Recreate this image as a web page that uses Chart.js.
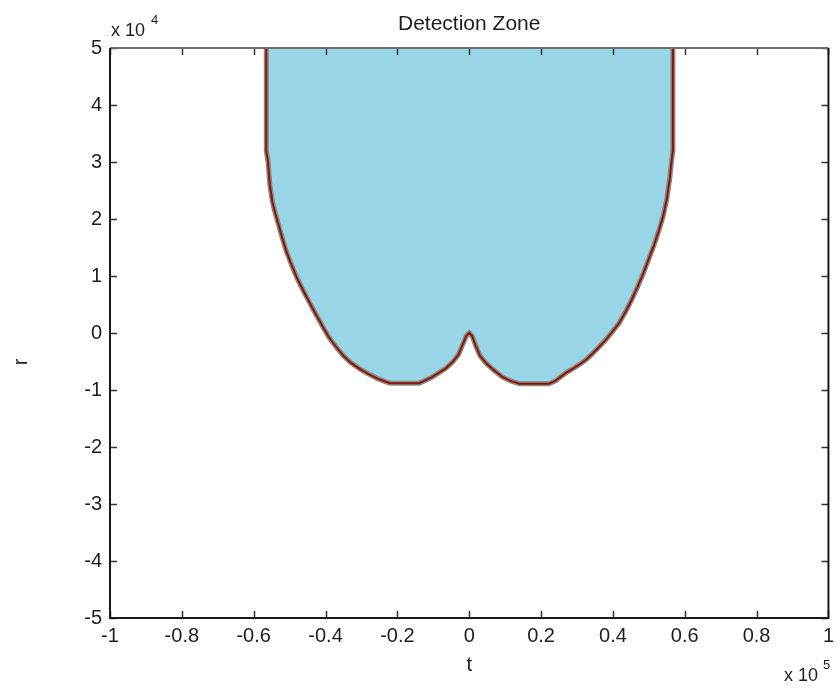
<!DOCTYPE html>
<html>
<head>
<meta charset="utf-8">
<script src="https://cdn.jsdelivr.net/npm/chart.js@4/dist/chart.umd.min.js"></script>
<style>
  html, body { margin: 0; padding: 0; background: #ffffff; }
  canvas { display: block; }
</style>
</head>
<body>
<canvas id="c" width="840" height="691" style="width:840px;height:691px"></canvas>
<script>
// ---- data (t in units of 1e5, r in units of 1e4) ----
const boundaryT = [
  -0.565, -0.565, -0.560, -0.555, -0.548, -0.540, -0.533, -0.522, -0.510, -0.495,
  -0.480, -0.465, -0.450, -0.435, -0.420, -0.405, -0.390, -0.370, -0.350, -0.330,
  -0.305, -0.280, -0.255, -0.230, -0.220, -0.140, -0.125, -0.105, -0.085, -0.065,
  -0.045, -0.030, -0.018, -0.008, 0.000,
  0.008, 0.018, 0.030, 0.047, 0.068, 0.092, 0.115, 0.140, 0.222, 0.240,
  0.269, 0.290, 0.310, 0.325, 0.345, 0.362, 0.380, 0.398, 0.417, 0.435,
  0.452, 0.468, 0.485, 0.500, 0.515, 0.528, 0.540, 0.550, 0.558, 0.563,
  0.567, 0.567
];
const boundaryR = [
  5.00, 3.20, 3.00, 2.60, 2.30, 2.10, 1.95, 1.70, 1.45, 1.20,
  0.97, 0.78, 0.60, 0.42, 0.25, 0.08, -0.08, -0.25, -0.40, -0.52,
  -0.63, -0.72, -0.80, -0.86, -0.88, -0.88, -0.84, -0.78, -0.70, -0.62,
  -0.50, -0.38, -0.20, -0.05, 0.00,
  -0.05, -0.22, -0.40, -0.53, -0.65, -0.77, -0.84, -0.89, -0.89, -0.84,
  -0.70, -0.62, -0.54, -0.47, -0.35, -0.24, -0.12, 0.02, 0.17, 0.37,
  0.58, 0.80, 1.05, 1.30, 1.55, 1.80, 2.05, 2.35, 2.70, 3.00,
  3.20, 5.00
];
const xTickValues = [-1, -0.8, -0.6, -0.4, -0.2, 0, 0.2, 0.4, 0.6, 0.8, 1];
const xTickLabels = ['-1', '-0.8', '-0.6', '-0.4', '-0.2', '0', '0.2', '0.4', '0.6', '0.8', '1'];
const yTickValues = [-5, -4, -3, -2, -1, 0, 1, 2, 3, 4, 5];
const yTickLabels = ['-5', '-4', '-3', '-2', '-1', '0', '1', '2', '3', '4', '5'];
const chartTitle = 'Detection Zone';
const xAxisTitle = 't';
const yAxisTitle = 'r';
const xMultiplierExp = '5';
const yMultiplierExp = '4';

const points = boundaryT.map((t, i) => ({ x: t, y: boundaryR[i] }));
const FONT = "'Liberation Sans', Arial, sans-serif";

const decor = {
  id: 'decor',
  afterDraw(chart) {
    const ctx = chart.ctx;
    const a = chart.chartArea;
    const xs = chart.scales.x, ys = chart.scales.y;
    ctx.save();
    // inward ticks on all four sides
    ctx.strokeStyle = '#333333';
    ctx.lineWidth = 1.5;
    const L = 7;
    xTickValues.forEach(v => {
      const px = Math.round(xs.getPixelForValue(v)) + 0.5;
      ctx.beginPath();
      ctx.moveTo(px, a.bottom); ctx.lineTo(px, a.bottom - L);
      ctx.moveTo(px, a.top); ctx.lineTo(px, a.top + L);
      ctx.stroke();
    });
    yTickValues.forEach(v => {
      const py = Math.round(ys.getPixelForValue(v)) + 0.5;
      ctx.beginPath();
      ctx.moveTo(a.left, py); ctx.lineTo(a.left + L, py);
      ctx.moveTo(a.right, py); ctx.lineTo(a.right - L, py);
      ctx.stroke();
    });
    // frame
    ctx.lineWidth = 2;
    ctx.strokeStyle = '#6e6e6e';
    ctx.beginPath(); ctx.moveTo(a.left, a.top); ctx.lineTo(a.right, a.top); ctx.stroke();
    ctx.strokeStyle = '#1a1a1a';
    ctx.beginPath();
    ctx.moveTo(a.left, a.top); ctx.lineTo(a.left, a.bottom);
    ctx.lineTo(a.right, a.bottom); ctx.lineTo(a.right, a.top);
    ctx.stroke();

    ctx.fillStyle = '#1e1e1e';
    // title
    ctx.font = '21px ' + FONT;
    ctx.textAlign = 'center';
    ctx.textBaseline = 'middle';
    ctx.fillText(chartTitle, (a.left + a.right) / 2, 24);
    // x axis title
    ctx.font = '20px ' + FONT;
    ctx.fillText(xAxisTitle, (a.left + a.right) / 2, 665);
    // y axis title rotated
    ctx.save();
    ctx.translate(21, 362);
    ctx.rotate(-Math.PI / 2);
    ctx.fillText(yAxisTitle, 0, 0);
    ctx.restore();
    // multipliers
    ctx.textAlign = 'left';
    ctx.font = '18px ' + FONT;
    ctx.fillText('x 10', 111, 31);
    ctx.font = '13px ' + FONT;
    ctx.fillText(yMultiplierExp, 151, 20);
    ctx.font = '18px ' + FONT;
    ctx.fillText('x 10', 784, 676);
    ctx.font = '13px ' + FONT;
    ctx.fillText(xMultiplierExp, 823, 665);
    ctx.restore();
  }
};

new Chart(document.getElementById('c'), {
  type: 'scatter',
  data: {
    datasets: [
      {
        data: points, showLine: true, borderColor: '#8b1414', borderWidth: 2,
        pointRadius: 0, fill: false, order: 0, tension: 0
      },
      {
        data: points, showLine: true, borderColor: '#8c8a78', borderWidth: 5,
        pointRadius: 0, fill: false, order: 1, tension: 0
      },
      {
        data: points, showLine: true, borderWidth: 0, borderColor: 'rgba(0,0,0,0)',
        backgroundColor: '#98d5e6', pointRadius: 0, fill: 'end', order: 2, tension: 0
      }
    ]
  },
  options: {
    responsive: false,
    animation: false,
    devicePixelRatio: 1,
    layout: { padding: { top: 48, right: 10, left: 0, bottom: 0 } },
    plugins: { legend: { display: false }, tooltip: { enabled: false }, title: { display: false } },
    scales: {
      x: {
        type: 'linear', min: -1, max: 1,
        afterBuildTicks: s => { s.ticks = xTickValues.map(v => ({ value: v })); },
        afterFit: s => { s.height = 73; },
        grid: { display: false, drawTicks: false, tickLength: 0 }, border: { display: false },
        ticks: {
          color: '#1e1e1e', font: { family: FONT, size: 20 }, padding: 6,
          maxRotation: 0, autoSkip: false,
          callback: (v, i) => xTickLabels[i]
        }
      },
      y: {
        type: 'linear', min: -5, max: 5,
        afterBuildTicks: s => { s.ticks = yTickValues.map(v => ({ value: v })); },
        afterFit: s => { s.width = 110; },
        grid: { display: false, drawTicks: false, tickLength: 0 }, border: { display: false },
        ticks: {
          color: '#1e1e1e', font: { family: FONT, size: 20 }, padding: 8,
          autoSkip: false,
          callback: (v, i) => yTickLabels[i]
        }
      }
    }
  },
  plugins: [decor]
});
</script>
</body>
</html>
